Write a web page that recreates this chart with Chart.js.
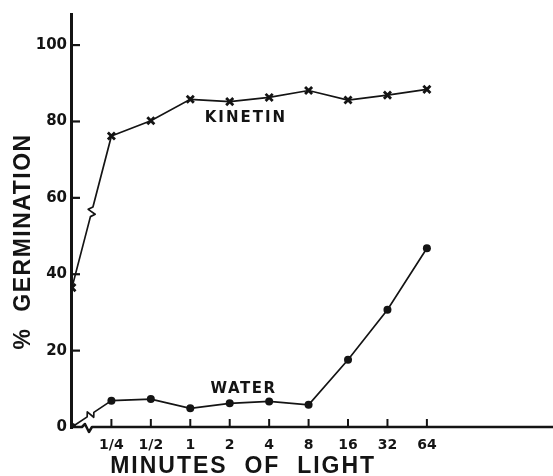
<!DOCTYPE html>
<html><head><meta charset="utf-8">
<script src="https://cdn.jsdelivr.net/npm/chart.js@4.4.1/dist/chart.umd.min.js"></script>
<style>html,body{margin:0;padding:0;background:#fff;}#wrap{width:553px;height:476px;}</style>
</head><body><div id="wrap"><canvas id="c" width="553" height="476"></canvas></div>
<script>
// ---- data ----
const categories = ['0', '1/4', '1/2', '1', '2', '4', '8', '16', '32', '64'];   // minutes of light ('0' = dark control at origin)
const kinetin = [36.5, 76.2, 80.2, 85.8, 85.2, 86.3, 88.1, 85.6, 86.9, 88.4];
const water   = [0.0, 6.9, 7.3, 4.9, 6.2, 6.7, 5.8, 17.6, 30.7, 46.8];
const yTicks = [0, 20, 40, 60, 80, 100];
const seriesNames = ['KINETIN', 'WATER'];
const xTitle = 'MINUTES  OF  LIGHT';
const yTitle = '%  GERMINATION';

const INK = '#141414';
const tickFont = {family: 'DejaVu Sans', weight: 'bold', size: 14};

function toPoints(vals) { return vals.map((v, i) => ({x: i, y: v})); }

function brokenSegment(ctx, A, B, t, h, w) {
  const dx = B.x - A.x, dy = B.y - A.y, len = Math.hypot(dx, dy);
  const ux = dx / len, uy = dy / len, rx = -uy, ry = ux;
  const P = {x: A.x + dx * t, y: A.y + dy * t};
  ctx.beginPath();
  ctx.moveTo(A.x, A.y);
  ctx.lineTo(P.x - ux * h, P.y - uy * h);
  ctx.lineTo(P.x + rx * w - ux * h * 0.3, P.y + ry * w - uy * h * 0.3);
  ctx.lineTo(P.x - rx * w + ux * h * 0.3, P.y - ry * w + uy * h * 0.3);
  ctx.lineTo(P.x + ux * h, P.y + uy * h);
  ctx.lineTo(B.x, B.y);
  ctx.stroke();
}

const decor = {
  id: 'decor',
  beforeDatasetsDraw(chart) {
    const {ctx, chartArea: a, scales: {x, y}} = chart;
    ctx.save();
    ctx.strokeStyle = INK; ctx.lineJoin = 'round'; ctx.lineCap = 'butt';
    // y axis
    ctx.lineWidth = 3;
    ctx.beginPath(); ctx.moveTo(a.left + 1.5, a.top); ctx.lineTo(a.left + 1.5, a.bottom + 2); ctx.stroke();
    ctx.lineWidth = 2.2;
    yTicks.forEach(v => {
      if (v === 0) return;
      const py = y.getPixelForValue(v);
      ctx.beginPath(); ctx.moveTo(a.left + 2, py); ctx.lineTo(a.left + 10, py); ctx.stroke();
    });
    // x axis with break
    const y0 = y.getPixelForValue(0);
    const bx = x.getPixelForValue(0.38);
    ctx.lineWidth = 2.5;
    ctx.beginPath();
    ctx.moveTo(a.left, y0); ctx.lineTo(bx - 5, y0); ctx.lineTo(bx - 2, y0 - 3);
    ctx.lineTo(bx + 2, y0 + 5); ctx.lineTo(bx + 5, y0); ctx.lineTo(chart.width, y0);
    ctx.stroke();
    ctx.lineWidth = 2;
    for (let i = 1; i < categories.length; i++) {
      const px = x.getPixelForValue(i);
      ctx.beginPath(); ctx.moveTo(px, y0); ctx.lineTo(px, y0 - 8); ctx.stroke();
    }
    // broken first segments of both series
    ctx.lineWidth = 1.7;
    const k0 = {x: x.getPixelForValue(0), y: y.getPixelForValue(kinetin[0])};
    const k1 = {x: x.getPixelForValue(1), y: y.getPixelForValue(kinetin[1])};
    brokenSegment(ctx, k0, k1, 0.5, 5, 4);
    const w0 = {x: x.getPixelForValue(0), y: y.getPixelForValue(water[0])};
    const w1 = {x: x.getPixelForValue(1), y: y.getPixelForValue(water[1])};
    brokenSegment(ctx, w0, w1, 0.47, 4, -4);
    ctx.restore();
  },
  afterDraw(chart) {
    const {ctx, chartArea: a, scales: {x, y}} = chart;
    ctx.save();
    ctx.fillStyle = INK; ctx.textAlign = 'center'; ctx.textBaseline = 'middle';
    // series labels
    ctx.font = 'bold 15px "DejaVu Sans"';
    ctx.letterSpacing = '2px';
    ctx.fillText(seriesNames[0], x.getPixelForValue(4.41), y.getPixelForValue(81.0));
    ctx.letterSpacing = '1.5px';
    ctx.fillText(seriesNames[1], x.getPixelForValue(4.35), y.getPixelForValue(9.8));
    // axis titles
    ctx.font = 'bold 23px "Liberation Sans"';
    ctx.letterSpacing = '2px';
    ctx.fillText(xTitle, x.getPixelForValue(4.34), a.bottom + 40);
    ctx.translate(24, y.getPixelForValue(48.6));
    ctx.rotate(-Math.PI / 2);
    ctx.letterSpacing = '1.5px';
    ctx.fillText(yTitle, 0, 0);
    ctx.restore();
  }
};

new Chart(document.getElementById('c'), {
  type: 'line',
  data: {
    datasets: [
      {
        label: seriesNames[0], data: toPoints(kinetin),
        borderColor: INK, borderWidth: 1.7, tension: 0,
        pointStyle: 'crossRot', pointRadius: 5, pointBorderWidth: 2.8,
        pointBorderColor: INK, pointBackgroundColor: INK,
        segment: {borderColor: c => c.p0DataIndex === 0 ? 'rgba(0,0,0,0)' : undefined}
      },
      {
        label: seriesNames[1], data: toPoints(water),
        borderColor: INK, borderWidth: 1.7, tension: 0,
        pointStyle: 'circle', pointRadius: 4, pointBorderWidth: 0,
        pointBackgroundColor: INK,
        segment: {borderColor: c => c.p0DataIndex === 0 ? 'rgba(0,0,0,0)' : undefined}
      }
    ]
  },
  options: {
    responsive: false, devicePixelRatio: 1, animation: false,
    layout: {padding: {top: 13, left: 0, right: 0, bottom: 0}},
    plugins: {legend: {display: false}, tooltip: {enabled: false}},
    scales: {
      x: {
        type: 'linear', min: -0.05, max: 12.0, bounds: 'data',
        afterBuildTicks: s => { s.ticks = categories.map((c, i) => ({value: i})).slice(1); },
        ticks: {callback: v => categories[v], font: tickFont, color: INK, padding: 10, maxRotation: 0, autoSkip: false},
        grid: {display: false, drawTicks: false}, border: {display: false},
        afterFit: s => { s.height = 49; }
      },
      y: {
        min: 0, max: 108.4, bounds: 'data',
        afterBuildTicks: s => { s.ticks = yTicks.map(v => ({value: v})); },
        ticks: {callback: v => String(v), font: {family: 'DejaVu Sans', weight: 'bold', size: 15}, color: INK, padding: 3, autoSkip: false},
        grid: {display: false, drawTicks: false}, border: {display: false},
        afterFit: s => { s.width = 70; }
      }
    }
  },
  plugins: [decor]
});
</script>
</body></html>
